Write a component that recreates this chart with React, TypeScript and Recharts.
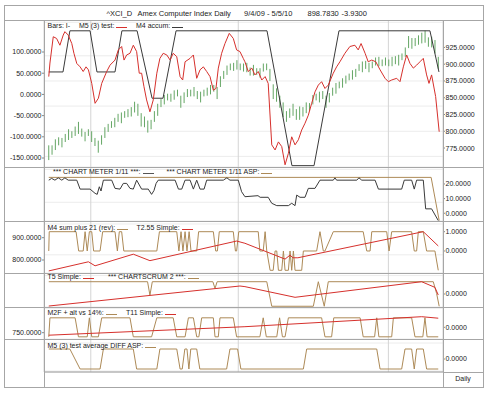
import React from 'react';
import { ComposedChart, Line, Bar, XAxis, YAxis, CartesianGrid } from 'recharts';

// x is a session position: 0 = 9/4/09, ~164 = 5/5/10
const X_DOMAIN: [number, number] = [-2, 166];
const BAR_STEP = 1.39;

// price bars (mid of each bar, and half its high-low range)
const barMid = [
    768, 772, 780, 785, 783, 790, 795, 795, 800, 805, 798, 792, 798, 792, 784, 777, 787, 798, 805, 810,
    813, 820, 820, 825, 827, 829, 836, 832, 817, 814, 807, 810, 822, 832, 842, 847, 851, 850, 854, 857,
    844, 850, 857, 857, 859, 854, 851, 857, 859, 862, 864, 857, 874, 884, 891, 896, 896, 899, 896, 895,
    895, 889, 891, 889, 887, 895, 896, 884, 859, 854, 844, 832, 822, 827, 832, 825, 827, 829, 835, 836,
    847, 851, 851, 854, 844, 850, 859, 864, 869, 872, 877, 881, 884, 887, 895, 896, 899, 895, 899, 904,
    904, 902, 904, 902, 904, 906, 906, 911, 918, 933, 931, 933, 936, 939, 941, 933, 933, 926, 902
];
const barHalf = [
    11, 7, 8, 6, 7, 6, 8, 5, 7, 9, 6, 7, 5, 8, 6, 9, 7, 8, 6, 5,
    7, 6, 8, 5, 6, 7, 8, 9, 10, 8, 9, 7, 8, 9, 6, 7, 5, 6, 7, 5,
    9, 8, 6, 5, 7, 6, 8, 5, 6, 7, 5, 9, 8, 6, 7, 5, 6, 7, 5, 6,
    7, 6, 8, 5, 7, 6, 5, 9, 11, 10, 9, 11, 8, 7, 9, 8, 10, 7, 8, 6,
    7, 5, 8, 6, 9, 7, 6, 8, 5, 7, 6, 5, 7, 6, 5, 8, 6, 7, 5, 6,
    7, 5, 6, 5, 7, 6, 8, 5, 7, 9, 8, 6, 7, 8, 9, 7, 8, 10, 9
];

// main panel, left scale
const m5Test: [number, number][] = [
    [0, 42], [0.5, 74], [1.9, 136], [3.3, 132], [4.7, 116], [6.1, 140], [6.8, 148], [8.2, 140], [9.7, 120], [10.6, 97],
    [11.8, 73], [13.2, 65], [14.5, 54], [15.7, 65], [16.7, 58], [18.1, 26], [19.5, -21], [20.9, -9], [22.3, 26], [24.4, 54],
    [25.8, 69], [27.9, 81], [29.3, 105], [30.7, 113], [31.7, 81], [32.8, 93], [34.2, 97], [35.6, 116], [37.0, 101], [38.1, 50],
    [39.1, 50], [40.1, 18], [41.2, -13], [42.6, -41], [44.0, -13], [45.5, 50], [46.8, 85], [48.2, 97], [49.7, 93], [51.1, 81],
    [52.4, 97], [53.9, 89], [55.3, 42], [56.4, 34], [57.4, 77], [59.5, 85], [60.9, 93], [62.3, 38], [63.7, 58], [65.1, 65],
    [66.5, 54], [67.9, 42], [69.3, 10], [70.4, 14], [71.4, 62], [72.8, 97], [74.2, 120], [76.0, 144], [77.7, 132], [79.1, 105],
    [80.5, 101], [81.9, 85], [82.6, 77], [84.0, 54], [85.5, 62], [86.8, 46], [88.2, 54], [89.7, 34], [91.1, 42], [92.4, 26],
    [93.9, -119], [95.3, -131], [96.7, -112], [98.1, -123], [99.5, -166], [100.9, -139], [102.3, -100], [103.7, -119], [105.1, -107], [106.5, -84],
    [107.9, -68], [109.3, -49], [110.7, -21], [112.1, 6], [113.5, 22], [114.9, 30], [116.3, 14], [117.7, 22], [119.8, 50], [121.2, 65],
    [122.6, 77], [124.7, 97], [126.8, 113], [128.9, 116], [130.3, 105], [131.5, 120], [133.2, 97], [134.5, 77], [136.0, 81], [137.7, 77],
    [139.5, 58], [141.6, 38], [143.0, 30], [144.4, 34], [146.5, 38], [147.9, 30], [149.3, 65], [150.7, 93], [152.1, 73], [153.5, 62],
    [154.9, 69], [156.3, 77], [157.7, 85], [159.1, 46], [160.1, 26], [161.2, 46], [162.9, -5], [164.4, -88]
];
const m4Accum: [number, number][] = [
    [0, 53], [6.0, 53], [8.9, 150], [17.4, 150], [20.3, 53], [27.9, 53], [30.8, 150], [37.2, 150], [43.5, -9], [48.1, -9],
    [53.6, 150], [91.9, 150], [102.4, -168], [111.7, -168], [122.2, 150], [160.5, 150], [164.3, 53]
];

// chart meter panel
const meter: [number, number][] = [
    [0, 22.6], [1.2, 23.8], [2.6, 22.6], [4.0, 24.2], [5.5, 22.6], [6.8, 24.2], [8.2, 22.6], [11.8, 22.6], [13.2, 16.5], [17.4, 16.5],
    [19.5, 13.6], [20.4, 12.9], [21.3, 18.1], [22.0, 15.2], [23.0, 22.6], [26.5, 22.6], [27.9, 17], [30.0, 16.5], [31.4, 20.4], [32.8, 20.4],
    [34.2, 17], [35.6, 16.5], [37.0, 22.6], [39.1, 16.5], [41.9, 16.5], [43.3, 12.9], [44.3, 15.5], [45.2, 20.4], [46.1, 22.6], [53.2, 22.6],
    [54.6, 16.5], [56.0, 16.5], [57.4, 22.6], [59.5, 22.6], [60.9, 16.5], [62.3, 22.6], [63.7, 16.5], [65.4, 16.5], [66.5, 22.6], [73.5, 22.6],
    [75.0, 24.2], [76.3, 22.6], [79.8, 22.6], [81.2, 14.7], [82.6, 11.3], [88.1, 12], [89.0, 10.9], [92.4, 10.9], [93.9, 6.8], [96.0, 5.2],
    [100.9, 5.2], [102.3, 6.8], [103.7, 5.2], [104.4, 12.4], [105.8, 10.9], [107.9, 10.9], [109.3, 17], [112.1, 17], [114.2, 22.6], [119.8, 22.6],
    [120.5, 24.2], [121.2, 22.6], [129.7, 22.6], [130.6, 24.2], [131.8, 22.6], [137.4, 22.6], [138.8, 16.5], [148.6, 16.5], [149.7, 22.6], [152.8, 22.6],
    [153.9, 16.5], [154.9, 22.6], [157.7, 22.6], [158.7, 3], [161.2, 3], [164.0, -5]
];
const meterAsp: [number, number][] = [[0, 24.5], [161.0, 24.5], [164.4, -5]];

// M4 sum plus 21 (rev) / T2.55 Simple
const m4Sum: [number, number][] = [
    [0, 0], [0.2, 1], [11.5, 1], [12.6, 0], [14.5, 0], [15.3, 1], [16.2, 0], [17.1, 1], [18.1, 1], [18.9, 0],
    [21.6, 0], [22.7, 1], [27.9, 1], [28.9, 0], [29.7, 1], [30.7, 1], [31.6, 0], [45.5, 0], [46.6, 1], [53.9, 1],
    [54.8, 0], [55.7, 1], [56.5, 0], [57.4, 1], [58.2, 0], [59.1, 1], [59.9, 0], [62.3, 0], [63.1, 1], [69.3, 1],
    [70.3, 0], [71.0, 0], [71.8, 1], [77.7, 1], [78.6, 0], [79.1, 0], [80.0, 1], [88.2, 1], [88.9, 0], [90.3, 0],
    [91.1, 1], [91.8, 0], [93.2, -1], [94.5, -1], [95.3, 0], [96.0, 0], [96.7, -1], [98.1, -1], [98.8, 0], [99.5, -1],
    [100.9, -1], [101.6, 0], [102.3, -1], [103.0, 0], [103.7, -1], [106.5, -1], [107.2, 0], [112.8, 0], [114.2, 1], [115.6, 0],
    [116.3, 0], [119.8, 1], [132.4, 1], [133.9, 0], [135.3, 0], [136.0, 1], [142.3, 1], [143.3, 0], [144.4, 1], [152.8, 1],
    [153.9, 0], [154.9, 0], [155.6, 1], [157.7, 1], [159.1, 0], [162.6, 0], [164.0, -1]
];
const t255: [number, number][] = [
    [0, 751], [16.7, 792], [19.5, 774], [35.6, 826], [42.6, 797], [79.1, 885], [82.6, 875], [99.5, 804], [101.6, 822], [102.8, 810],
    [104.9, 810], [157.7, 927], [164.0, 863]
];

// T5 Simple / CHARTSCRUM 2
const t5: [number, number][] = [[0, -0.98], [80.5, 0.65], [82.6, 0.6], [103.7, -0.27], [157.0, 1.0], [162.6, 0.54], [164.0, -0.08]];
const scrum: [number, number][] = [
    [0, 1], [41.6, 1], [42.6, -0.1], [43.6, 1], [69.1, 1], [70.0, 0.45], [70.9, 1], [91.8, 1], [93.9, -1], [111.4, -1],
    [113.5, 1], [116.0, -1], [117.7, 1], [161.9, 1], [163.3, 0.05], [164.4, -1]
];

// M2F + alt vs 14% / T11 Simple
const m2f: [number, number][] = [
    [0, -1], [0.5, 1], [11.1, 1], [12.5, -1], [16.2, -1], [17.1, 1], [18.1, -1], [20.9, -1], [22.3, 1], [34.2, 1],
    [35.6, -1], [43.3, -1], [45.5, 1], [52.4, 1], [53.9, -1], [57.4, -1], [58.8, 1], [60.9, 1], [62.3, -1], [63.2, -1],
    [64.4, 1], [69.3, 1], [70.0, -1], [71.4, -1], [72.1, 1], [77.7, 1], [79.1, -1], [88.9, -1], [90.3, 1], [91.6, -1],
    [96.0, -1], [97.2, 1], [98.4, -1], [99.5, -1], [100.9, 1], [114.9, 1], [116.3, -1], [119.1, -1], [120.0, 1], [131.1, 1],
    [132.4, -1], [137.2, -1], [138.1, 1], [139.0, -1], [144.4, -1], [145.1, 1], [152.8, 1], [154.2, -1], [157.5, -1], [158.4, 1],
    [159.3, -1], [164.0, -1]
];
const t11: [number, number][] = [[0, 745], [82.6, 762], [157.0, 782], [164.0, 779]];

// M5 (3) test average DIFF ASP
const diffAsp: [number, number][] = [
    [0, 1], [8.9, 1], [13.2, -1], [21.6, -1], [23.0, 1], [35.6, 1], [37.0, -1], [45.5, -1], [46.8, 1], [53.9, 1],
    [55.3, -1], [56.2, -1], [57.3, 1], [58.2, 1], [59.0, -1], [59.8, 1], [62.3, 1], [63.6, -1], [74.9, -1], [76.3, 1],
    [79.5, 1], [80.9, -1], [107.2, -1], [108.6, 1], [138.1, 1], [139.5, -1], [148.6, -1], [150.0, 1], [152.8, 1], [153.9, -1],
    [154.9, 1], [157.7, 1], [159.1, -1], [164.0, -1]
];

const monthLabels = ['Sep', 'Oct', 'Nov', 'Dec', 'Jan', 'Feb', 'Mar', 'Apr', ''];
const monthStarts = [-1.5, 17.7, 40.8, 56.4, 79.8, 99.8, 119.8, 143.0, 162.6];
const minorTicks = [3, 7, 11, 14, 22, 26, 30, 34, 37, 45, 49, 53, 60, 64, 68, 72, 76, 84, 88, 92, 96,
    104, 108, 112, 116, 124, 128, 132, 136, 140, 147, 151, 155, 159];
const yearLabels = ['09', '10'];
const yearStarts = [-1.5, 79.8];
const quarterLines = [17.7, 79.8, 143.0];

const RED = '#d6302c';
const BLACK = '#3a3a3a';
const TAN = '#ad8a57';
const GREEN = '#64a664';
const FRAME = '#a6a6a6';
const FONT = '"Liberation Sans", Arial, sans-serif';

const bars = barMid.map((m, i) => ({ d: i * BAR_STEP, hl: [m - barHalf[i], m + barHalf[i]] }));
const toPts = (a: [number, number][]) => a.map(([d, v]) => ({ d, v }));
const gridTicks = ([lo, hi]: [number, number], step: number) => {
    const out: number[] = [];
    for (let v = Math.ceil(lo / step) * step; v < hi; v += step) out.push(+v.toFixed(4));
    return out;
};
const axisTicks = [...monthStarts, ...minorTicks].sort((a, b) => a - b);

const PriceBar = (p: any) => {
    const cx = p.x + p.width / 2;
    const top = Math.min(p.y, p.y + p.height);
    return <line x1={cx} x2={cx} y1={top} y2={top + Math.abs(p.height)} stroke={GREEN} strokeWidth={1} />;
};

const MonthTick = (props: any) => {
    const { x, y, payload } = props;
    const i = monthStarts.indexOf(payload.value);
    if (i < 0) return <line x1={x} x2={x} y1={y} y2={y + 2} stroke="#888" />;
    return (
        <g>
            {i > 0 && <line x1={x} x2={x} y1={y} y2={y + 9} stroke="#888" />}
            <text x={x + 1.5} y={y + 7} fontSize={7} fill="#222" fontFamily={FONT}>{monthLabels[i]}</text>
        </g>
    );
};

const YearTick = (props: any) => {
    const { x, y, payload } = props;
    const i = yearStarts.indexOf(payload.value);
    return (
        <g>
            {i > 0 && <line x1={x} x2={x} y1={y - 9} y2={y + 6} stroke="#888" />}
            <text x={x + 1.5} y={y + 5.6} fontSize={7} fill="#222" fontFamily={FONT}>{yearLabels[i]}</text>
        </g>
    );
};

interface Series { pts: [number, number][]; color: string; axis: 'l' | 'r' }

interface PanelProps {
    top: number;
    height: number;
    lDomain: [number, number];
    rDomain: [number, number];
    lTicks?: number[];
    rTicks?: number[];
    gridStep: number;
    lines: Series[];
    withBars?: boolean;
    withAxis?: boolean;
}

const tickStyle = { fontSize: 7, fill: '#222', fontFamily: FONT };

const Panel = ({ top, height, lDomain, rDomain, lTicks = [], rTicks = [], gridStep, lines, withBars, withAxis }: PanelProps) => (
    <div style={{ position: 'absolute', left: 4, top }}>
        <ComposedChart width={479} height={height} data={withBars ? bars : undefined}
            margin={{ top: 0, right: 0, bottom: 0, left: 0 }}>
            <XAxis xAxisId="x" type="number" dataKey="d" domain={X_DOMAIN} allowDataOverflow hide ticks={quarterLines} />
            {withAxis && (
                <XAxis xAxisId="m" type="number" domain={X_DOMAIN} allowDataOverflow height={9} ticks={axisTicks}
                    interval={0} tickLine={false} tickSize={0} tickMargin={0} axisLine={{ stroke: '#999' }} tick={<MonthTick />} />
            )}
            {withAxis && (
                <XAxis xAxisId="yr" type="number" domain={X_DOMAIN} allowDataOverflow height={6} ticks={yearStarts}
                    interval={0} tickLine={false} tickSize={0} tickMargin={0} axisLine={{ stroke: '#999' }} tick={<YearTick />} />
            )}
            <YAxis yAxisId="l" type="number" width={40} domain={lDomain} allowDataOverflow ticks={lTicks} interval={0}
                axisLine={false} tickLine={{ stroke: '#888' }} tickSize={2} tickMargin={0.5} tick={tickStyle}
                tickFormatter={(v: number) => v.toFixed(4)} />
            <YAxis yAxisId="r" type="number" orientation="right" width={40} domain={rDomain} allowDataOverflow ticks={rTicks}
                interval={0} axisLine={false} tickLine={{ stroke: '#888' }} tickSize={2} tickMargin={0.5} tick={tickStyle}
                tickFormatter={(v: number) => v.toFixed(4)} />
            <YAxis yAxisId="g" type="number" orientation="right" width={0} hide domain={rDomain} allowDataOverflow
                ticks={gridTicks(rDomain, gridStep)} />
            <CartesianGrid xAxisId="x" yAxisId="g" vertical={false} stroke="#ececec" />
            <CartesianGrid xAxisId="x" yAxisId="g" horizontal={false} stroke="#d4d4d4" />
            {withBars && (
                <Bar xAxisId="x" yAxisId="r" dataKey="hl" barSize={1} shape={PriceBar} isAnimationActive={false} />
            )}
            {lines.map((s, i) => (
                <Line key={i} xAxisId="x" yAxisId={s.axis} data={toPts(s.pts)} dataKey="v" type="linear"
                    stroke={s.color} strokeWidth={1} dot={false} activeDot={false} isAnimationActive={false} />
            ))}
        </ComposedChart>
    </div>
);

const Key = ({ x, y, text, color }: { x: number; y: number; text: string; color?: string }) => (
    <div style={{
        position: 'absolute', left: x, top: y - 4, fontSize: 7, lineHeight: '8px',
        whiteSpace: 'nowrap', color: '#222', fontFamily: FONT
    }}>
        {text}
        {color && <span style={{ display: 'inline-block', width: 11, marginLeft: 2, borderBottom: `1px solid ${color}` }} />}
    </div>
);

const HLine = ({ y, x1 = 4, x2 = 483 }: { y: number; x1?: number; x2?: number }) => (
    <div style={{ position: 'absolute', left: x1, top: y, width: x2 - x1, height: 1, background: FRAME }} />
);
const VLine = ({ x, y1 = 20, y2 = 387 }: { x: number; y1?: number; y2?: number }) => (
    <div style={{ position: 'absolute', left: x, top: y1, width: 1, height: y2 - y1, background: FRAME }} />
);

const titleStyle: React.CSSProperties = {
    position: 'absolute', top: 9, fontSize: 7.5, lineHeight: '9px', whiteSpace: 'nowrap', color: '#222', fontFamily: FONT
};

const App: React.FC = () => (
    <div style={{ position: 'absolute', left: 0, top: 0, width: 490, height: 394, background: '#fff', fontFamily: FONT }}>
        <Panel top={20} height={147} lDomain={[-171.2, 175.5]} rDomain={[746.7, 965.9]}
            lTicks={[100, 50, 0, -50, -100, -150]} rTicks={[925, 900, 875, 850, 825, 800, 775]} gridStep={6.25}
            withBars lines={[{ pts: m4Accum, color: BLACK, axis: 'l' }, { pts: m5Test, color: RED, axis: 'l' }]} />
        <Panel top={167} height={54} lDomain={[-5.3, 31.6]} rDomain={[-5.3, 31.6]} rTicks={[20, 10, 0]} gridStep={2.5}
            lines={[{ pts: meterAsp, color: TAN, axis: 'r' }, { pts: meter, color: BLACK, axis: 'r' }]} />
        <Panel top={221} height={52} lDomain={[741.7, 974.9]} rDomain={[-1.14, 1.554]} lTicks={[900, 800]} rTicks={[1, 0]}
            gridStep={0.2} lines={[{ pts: m4Sum, color: TAN, axis: 'r' }, { pts: t255, color: RED, axis: 'l' }]} />
        <Panel top={273} height={34} lDomain={[-1.06, 1.71]} rDomain={[-1.06, 1.71]} rTicks={[0]} gridStep={0.3}
            lines={[{ pts: scrum, color: TAN, axis: 'r' }, { pts: t5, color: RED, axis: 'r' }]} />
        <Panel top={307} height={32} lDomain={[737.4, 801.4]} rDomain={[-1.23, 2.14]} lTicks={[750]} rTicks={[0]}
            gridStep={0.4} lines={[{ pts: m2f, color: TAN, axis: 'r' }, { pts: t11, color: RED, axis: 'l' }]} />
        <Panel top={339} height={48} lDomain={[-1.3, 2.0]} rDomain={[-1.3, 2.0]} rTicks={[0]} gridStep={0.4}
            withAxis lines={[{ pts: diffAsp, color: TAN, axis: 'r' }]} />

        {/* frame */}
        <div style={{ position: 'absolute', left: 4, top: 5, width: 478, height: 381, border: `1px solid ${FRAME}` }} />
        <HLine y={20} />
        <HLine y={167} />
        <HLine y={221} />
        <HLine y={273} />
        <HLine y={307} />
        <HLine y={339} />
        <HLine y={372} x1={443} />
        <VLine x={44} />
        <VLine x={443} />

        <span style={{ ...titleStyle, left: 106.5 }}>^XCI_D</span>
        <span style={{ ...titleStyle, left: 137.5 }}>Amex Computer Index Daily</span>
        <span style={{ ...titleStyle, left: 244 }}>9/4/09 - 5/5/10</span>
        <span style={{ ...titleStyle, left: 307.5 }}>898.7830</span>
        <span style={{ ...titleStyle, left: 341.5 }}>-3.9300</span>

        <Key x={47.5} y={25.5} text="Bars: I-" />
        <Key x={79} y={25.5} text="M5 (3) test:" color={RED} />
        <Key x={136} y={25.5} text="M4 accum:" color={BLACK} />
        <Key x={53} y={172} text="*** CHART METER 1/11 ***:" color="#555" />
        <Key x={166.5} y={172} text="*** CHART METER 1/11 ASP:" color={TAN} />
        <Key x={47.5} y={227.5} text="M4 sum plus 21 (rev):" color={TAN} />
        <Key x={136.5} y={227.5} text="T2.55 Simple:" color={RED} />
        <Key x={47.5} y={276.5} text="T5 Simple:" color={RED} />
        <Key x={108} y={276.5} text="*** CHARTSCRUM 2 ***:" color={TAN} />
        <Key x={47.5} y={312.5} text="M2F + alt vs 14%:" color={TAN} />
        <Key x={126} y={312.5} text="T11 Simple:" color={RED} />
        <Key x={47.5} y={346} text="M5 (3) test average DIFF ASP:" color={TAN} />

        <div style={{
            position: 'absolute', left: 443, top: 374, width: 40, textAlign: 'center', fontSize: 7,
            lineHeight: '9px', color: '#222', fontFamily: FONT
        }}>Daily</div>
    </div>
);

export default App;
